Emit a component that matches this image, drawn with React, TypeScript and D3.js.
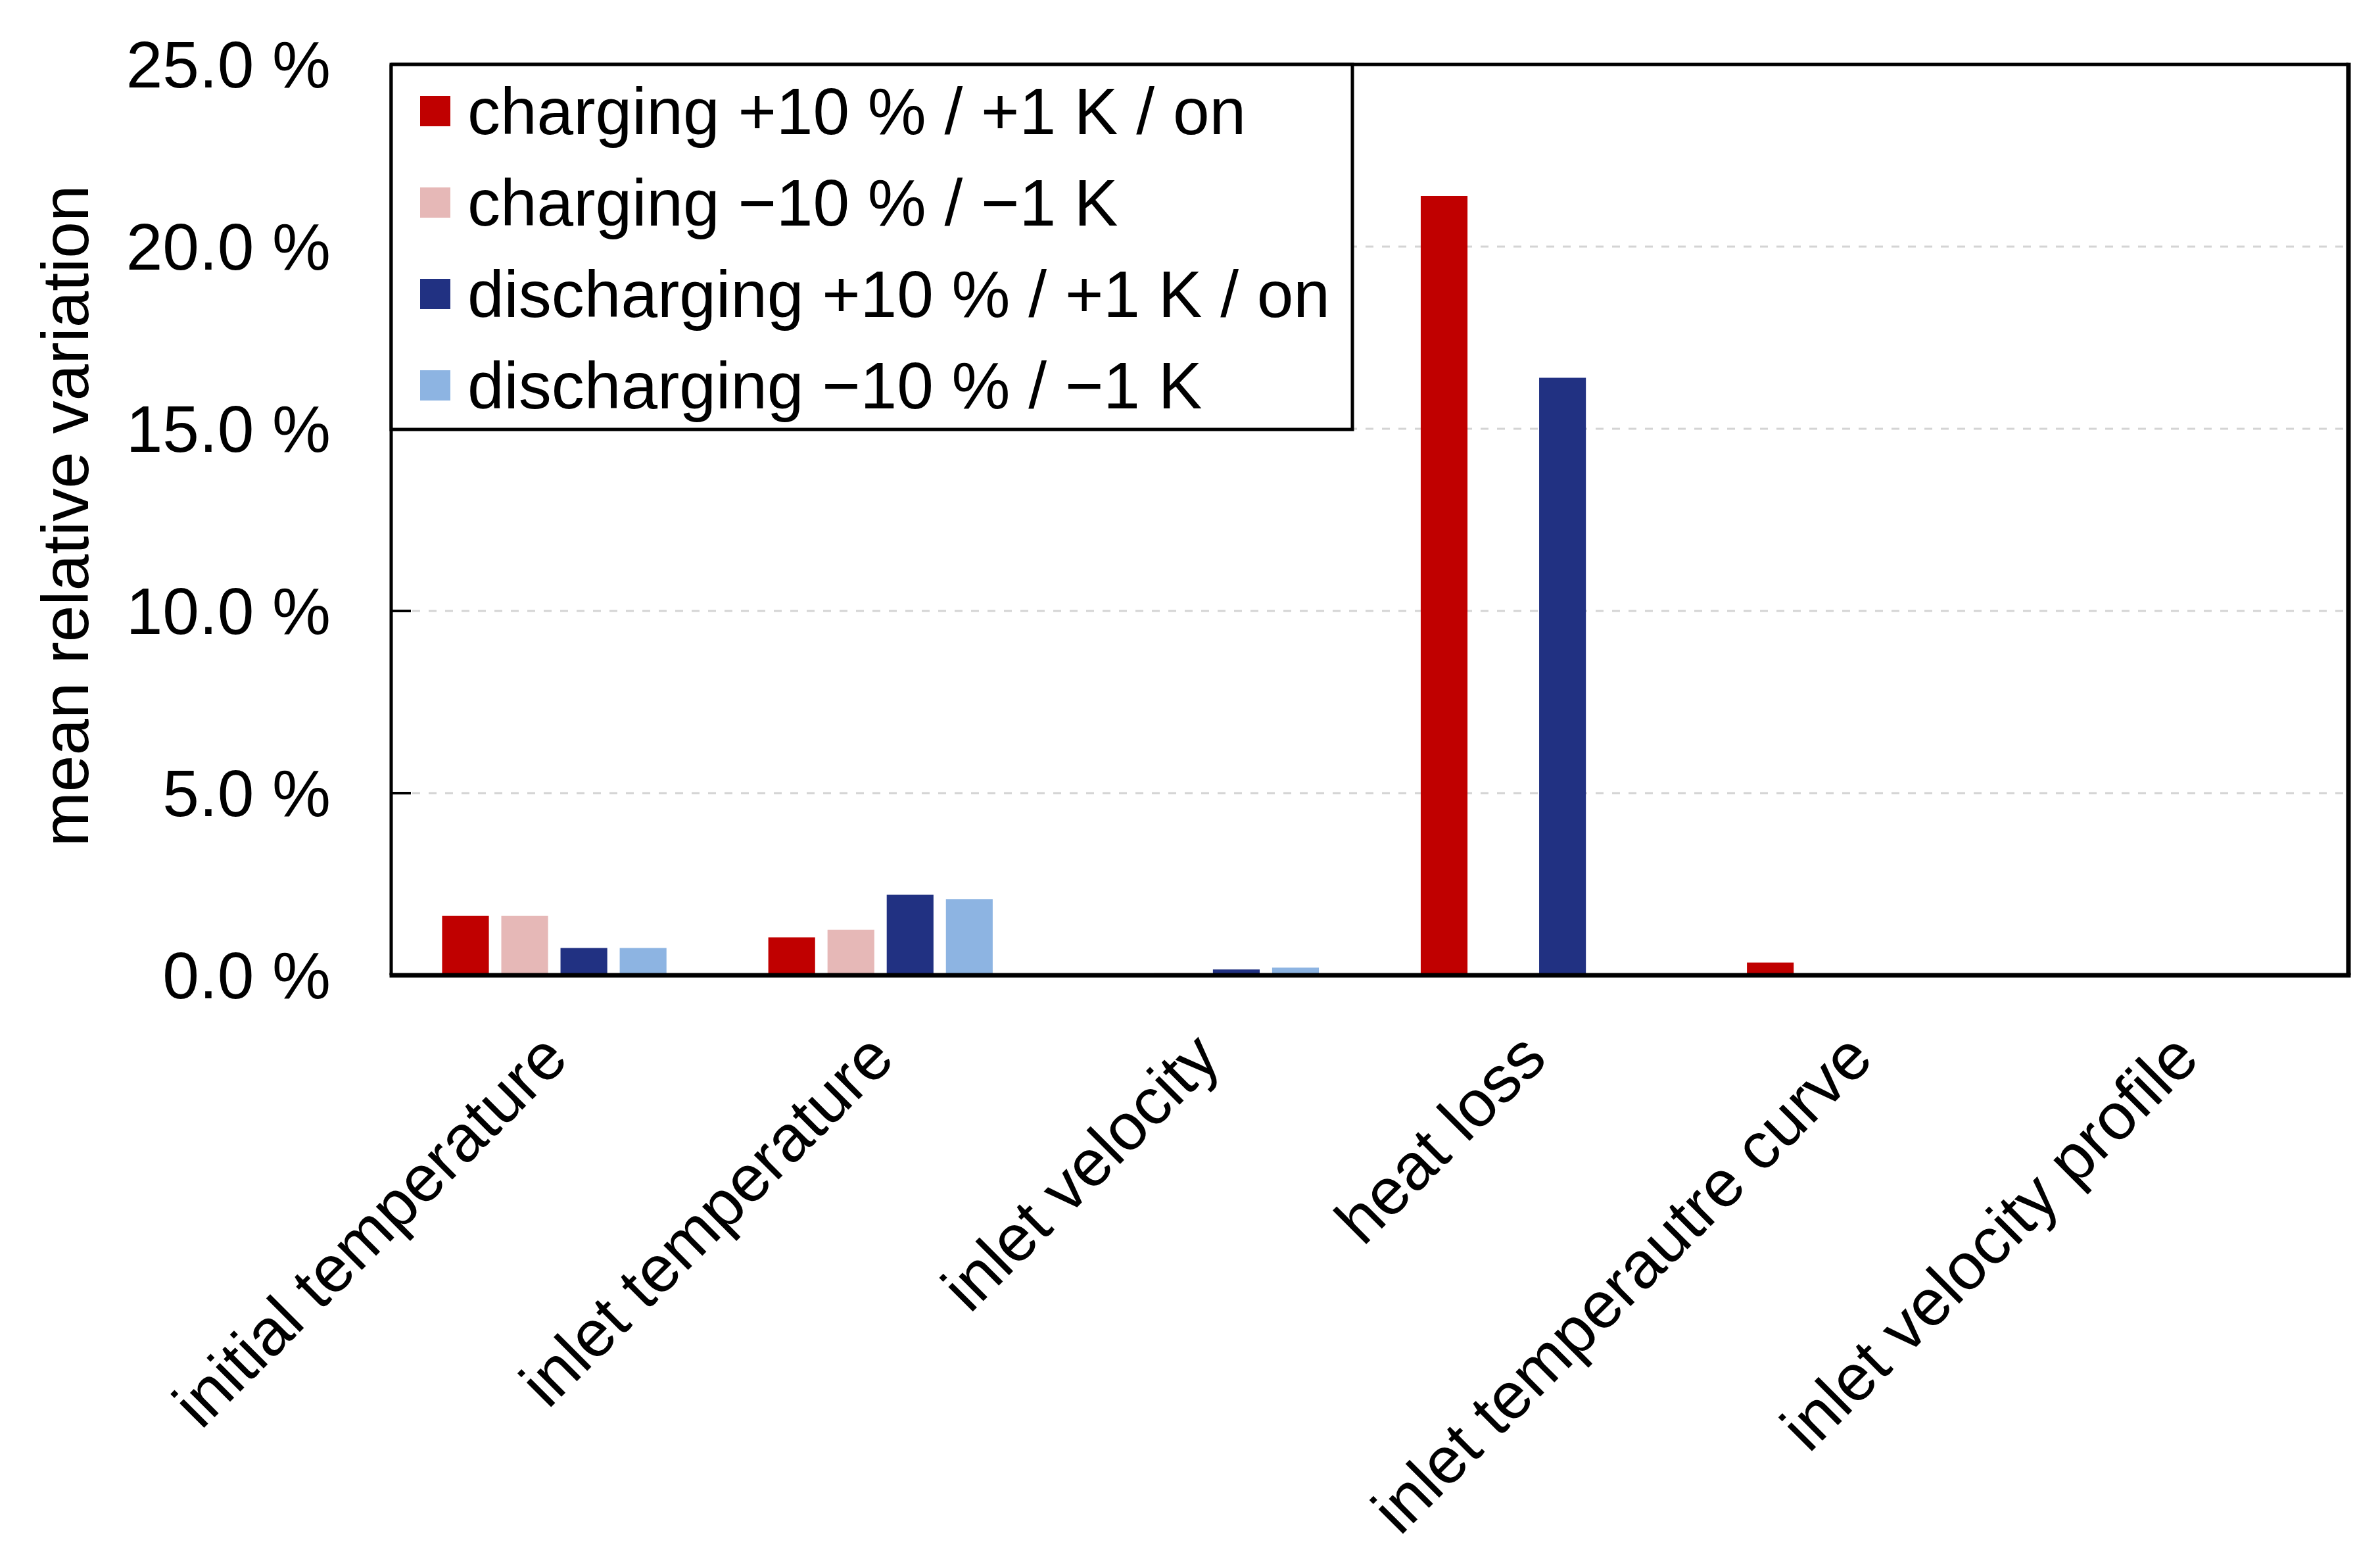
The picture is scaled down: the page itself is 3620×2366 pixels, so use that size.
import * as d3 from "d3";

const categories = [
  "initial temperature",
  "inlet temperature",
  "inlet velocity",
  "heat loss",
  "inlet temperautre curve",
  "inlet velocity profile",
];

const seriesNames = [
  "charging +10 % / +1 K / on",
  "charging \u221210 % / \u22121 K",
  "discharging +10 % / +1 K / on",
  "discharging \u221210 % / \u22121 K",
];

const seriesColors = ["#c00000", "#e6b8b7", "#213182", "#8db4e2"];

// mean relative variation in %, one array per series (in category order)
const chargingPlus = [1.63, 1.04, 0.0, 21.39, 0.35, 0.0];
const chargingMinus = [1.63, 1.25, 0.06, 0.0, 0.0, 0.0];
const dischargingPlus = [0.75, 2.21, 0.16, 16.4, 0.0, 0.0];
const dischargingMinus = [0.75, 2.09, 0.21, 0.0, 0.0, 0.0];

const yTicks = [0, 5, 10, 15, 20, 25];

const W = 3620;
const H = 2366;
const margin = { left: 595, right: 48, top: 98, bottom: 883 };
const FONT = "'Liberation Sans', Arial, sans-serif";

export default function App() {
  const values = [chargingPlus, chargingMinus, dischargingPlus, dischargingMinus];
  const x0 = d3
    .scaleBand<string>()
    .domain(categories)
    .range([margin.left, W - margin.right])
    .padding(0);
  const x1 = d3
    .scaleBand<number>()
    .domain(d3.range(seriesNames.length))
    .range([0, x0.bandwidth()])
    .paddingInner(0.21)
    .paddingOuter(0.86);
  const y = d3
    .scaleLinear()
    .domain([0, 25])
    .range([H - margin.bottom, margin.top]);

  const left = margin.left;
  const right = W - margin.right;
  const top = margin.top;
  const bottom = H - margin.bottom;

  // legend box
  const legW = 1462;
  const legH = 555;
  const rowStep = 139;

  return (
    <svg
      width={W}
      height={H}
      viewBox={`0 0 ${W} ${H}`}
      style={{ position: "absolute", left: 0, top: 0, background: "#fff" }}
      fontFamily={FONT}
    >
      {/* gridlines */}
      {yTicks
        .filter((t) => t > 0 && t < 25)
        .map((t) => (
          <line
            key={"g" + t}
            x1={left + 32}
            x2={right}
            y1={y(t)}
            y2={y(t)}
            stroke="#d4d4d4"
            strokeWidth={3}
            strokeDasharray="12,13"
          />
        ))}

      {/* bars */}
      {categories.map((c, ci) => (
        <g key={c} transform={`translate(${x0(c)},0)`}>
          {values.map((s, si) => (
            <rect
              key={si}
              x={x1(si)}
              y={y(s[ci])}
              width={x1.bandwidth()}
              height={bottom - y(s[ci])}
              fill={seriesColors[si]}
            />
          ))}
        </g>
      ))}

      {/* y ticks and labels */}
      {yTicks.map((t) => (
        <g key={"t" + t}>
          <line x1={left} x2={left + 30} y1={y(t)} y2={y(t)} stroke="#000" strokeWidth={4} />
          <text
            x={503}
            y={y(t)}
            dy="0.35em"
            textAnchor="end"
            fontSize={100}
            fill="#000"
          >
            {t.toFixed(1) + " %"}
          </text>
        </g>
      ))}

      {/* frame */}
      <line x1={left} x2={right} y1={top} y2={top} stroke="#000" strokeWidth={5} />
      <line x1={left} x2={left} y1={top} y2={bottom} stroke="#000" strokeWidth={5} />
      <line x1={right} x2={right} y1={top - 2.5} y2={bottom} stroke="#000" strokeWidth={7} />
      <line x1={left - 2.5} x2={right + 3.5} y1={bottom} y2={bottom} stroke="#000" strokeWidth={7} />

      {/* y axis title */}
      <text
        transform={`translate(134,${(top + bottom) / 2 - 6}) rotate(-90)`}
        textAnchor="middle"
        fontSize={100}
        fill="#000"
      >
        mean relative variation
      </text>

      {/* x category labels */}
      {categories.map((c) => (
        <text
          key={"x" + c}
          transform={`translate(${(x0(c) ?? 0) + x0.bandwidth() / 2},${bottom + 106}) rotate(-45)`}
          dy="0.35em"
          textAnchor="end"
          fontSize={100}
          fill="#000"
        >
          {c}
        </text>
      ))}

      {/* legend */}
      <g transform={`translate(${left},${top})`}>
        <rect width={legW} height={legH} fill="#fff" stroke="#000" strokeWidth={5} />
        {seriesNames.map((n, i) => (
          <g key={n} transform={`translate(0,${71 + i * rowStep})`}>
            <rect x={44} y={-23} width={46} height={46} fill={seriesColors[i]} />
            <text x={116} dy="0.35em" fontSize={100} fill="#000">
              {n}
            </text>
          </g>
        ))}
      </g>
    </svg>
  );
}
